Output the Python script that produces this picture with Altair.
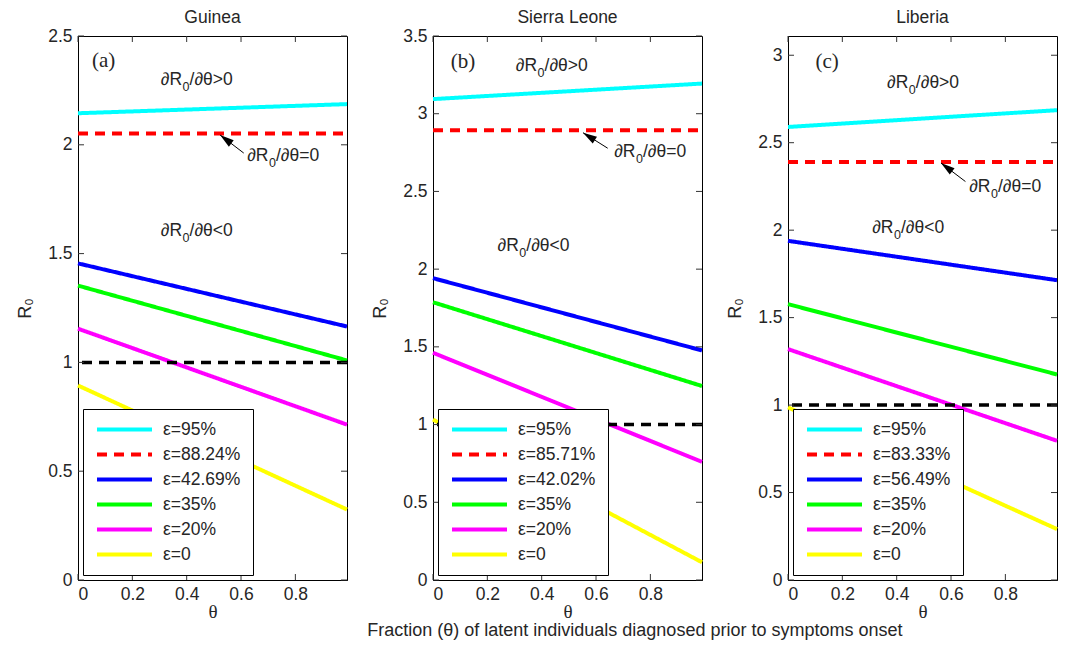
import altair as alt
import pandas as pd

# ---------------- data ----------------
countries = ["Guinea", "Sierra Leone", "Liberia"]
panel_tags = ["(a)", "(b)", "(c)"]
theta_range = [0.0, 0.99]
x_ticks = [0, 0.2, 0.4, 0.6, 0.8]
y_max = [2.5, 3.5, 3.11]
y_ticks = [
    [0, 0.5, 1, 1.5, 2, 2.5],
    [0, 0.5, 1, 1.5, 2, 2.5, 3, 3.5],
    [0, 0.5, 1, 1.5, 2, 2.5, 3],
]
labels = [
    ["ε=95%", "ε=88.24%", "ε=42.69%", "ε=35%", "ε=20%", "ε=0"],
    ["ε=95%", "ε=85.71%", "ε=42.02%", "ε=35%", "ε=20%", "ε=0"],
    ["ε=95%", "ε=83.33%", "ε=56.49%", "ε=35%", "ε=20%", "ε=0"],
]
# R0 at theta = 0 and theta = 0.99 (lines are straight)
r0_start = [
    [2.145, 2.052, 1.455, 1.353, 1.155, 0.894],
    [3.094, 2.894, 1.942, 1.787, 1.462, 1.032],
    [2.590, 2.390, 1.939, 1.577, 1.320, 0.987],
]
r0_end = [
    [2.187, 2.052, 1.165, 1.009, 0.714, 0.324],
    [3.194, 2.894, 1.477, 1.248, 0.760, 0.114],
    [2.686, 2.390, 1.714, 1.175, 0.796, 0.291],
]
threshold = 1.0
series_colors = ["#00FFFF", "#FF0000", "#0000FF", "#00FF00", "#FF00FF", "#FFFF00"]
series_dash = [[1, 0], [10, 7], [1, 0], [1, 0], [1, 0], [1, 0]]

# annotations: text pieces "∂R" + subscript "0" + rest; anchor = subscript start (theta, R0)
ann_head = "∂R"
ann_sub = "0"
ann_tails = ["/∂θ>0", "/∂θ<0", "/∂θ=0"]
ann_theta = [[0.383, 0.383, 0.701], [0.383, 0.316, 0.745], [0.443, 0.388, 0.745]]
ann_r0 = [[2.30, 1.605, 1.95], [3.31, 2.15, 2.751], [2.84, 2.01, 2.247]]
arrow_tip = [(0.523, 2.045), (0.552, 2.878), (0.563, 2.384)]
arrow_tail = [(0.61, 1.962), (0.643, 2.778), (0.653, 2.278)]
arrow_angle = [307, 302, 307]
tag_xy = [(0.094, 2.385), (0.11, 3.33), (0.144, 2.96)]

x_title = "Fraction (θ) of latent individuals diagnosed prior to symptoms onset"

SANS = "Liberation Sans"
SERIF = "Liberation Serif"
TXT = "#262626"
W, H = 269, 544
TICK = 6
FS = 17.5
title_offsets = [0.5, 0.5, 9.5]


def panel(i):
    xs = alt.Scale(domain=theta_range, nice=False, zero=False)
    ys = alt.Scale(domain=[0, y_max[i]], nice=False)
    x_axis = alt.Axis(values=x_ticks, format="~g", ticks=False, tickSize=0, labelPadding=5,
                      title="θ", titleFont=SERIF, titleFontSize=19,
                      titleFontWeight="normal", titlePadding=0, titleColor=TXT)
    y_axis = alt.Axis(values=y_ticks[i], format="~g", ticks=False, tickSize=0, labelPadding=6,
                      title="R₀", titleFont=SANS, titleFontSize=18,
                      titleFontWeight="normal", titlePadding=13, titleColor=TXT)

    def X(f="theta"):
        return alt.X(f"{f}:Q", scale=xs, axis=x_axis)

    def Y(f="r0"):
        return alt.Y(f"{f}:Q", scale=ys, axis=y_axis)

    rows = []
    for k, lab in enumerate(labels[i]):
        rows.append({"theta": theta_range[0], "r0": r0_start[i][k], "label": lab})
        rows.append({"theta": theta_range[1], "r0": r0_end[i][k], "label": lab})
    df = pd.DataFrame(rows)

    legend = alt.Legend(
        title=None, orient="bottom-left", offset=5, fillColor="white",
        strokeColor="black", padding=12, symbolType="stroke", symbolSize=3025,
        symbolStrokeWidth=4, clipHeight=17, rowPadding=7, labelFontSize=FS,
        labelFont=SANS, labelColor=TXT, labelOffset=9, symbolOpacity=1,
    )
    lines = alt.Chart(df).mark_line(strokeWidth=4).encode(
        x=X(), y=Y(),
        color=alt.Color("label:N", scale=alt.Scale(domain=labels[i], range=series_colors), legend=legend),
        strokeDash=alt.StrokeDash("label:N", scale=alt.Scale(domain=labels[i], range=series_dash), legend=legend),
    )

    thr = alt.Chart(pd.DataFrame({"r0": [threshold]})).mark_rule(
        color="black", strokeWidth=3.5, strokeDash=[10, 7]).encode(y=Y())

    ydf = pd.DataFrame({"r0": y_ticks[i]})
    xdf = pd.DataFrame({"theta": x_ticks})
    tick_style = dict(color="#333", strokeWidth=1)
    ticks_l = alt.Chart(ydf).mark_rule(**tick_style).encode(y=Y(), x=alt.value(0), x2=alt.value(TICK))
    ticks_r = alt.Chart(ydf).mark_rule(**tick_style).encode(y=Y(), x=alt.value(W - TICK), x2=alt.value(W))
    ticks_b = alt.Chart(xdf).mark_rule(**tick_style).encode(x=X(), y=alt.value(H - TICK), y2=alt.value(H))
    ticks_t = alt.Chart(xdf).mark_rule(**tick_style).encode(x=X(), y=alt.value(0), y2=alt.value(TICK))

    adf_txt = pd.DataFrame({
        "theta": ann_theta[i], "r0": ann_r0[i],
        "head": [ann_head] * 3, "sub": [ann_sub] * 3, "tail": ann_tails,
    })
    t_head = alt.Chart(adf_txt).mark_text(font=SANS, fontSize=FS, color=TXT, align="right",
                                          baseline="middle").encode(x=X(), y=Y(), text="head:N")
    t_sub = alt.Chart(adf_txt).mark_text(font=SANS, fontSize=12.5, color=TXT, align="left",
                                         baseline="middle", dx=0.5, dy=7).encode(x=X(), y=Y(), text="sub:N")
    t_tail = alt.Chart(adf_txt).mark_text(font=SANS, fontSize=FS, color=TXT, align="left",
                                          baseline="middle", dx=7.5).encode(x=X(), y=Y(), text="tail:N")

    tdf = pd.DataFrame({"theta": [tag_xy[i][0]], "r0": [tag_xy[i][1]], "text": [panel_tags[i]]})
    ttext = alt.Chart(tdf).mark_text(font=SERIF, fontSize=21, color=TXT, align="center",
                                     baseline="middle").encode(x=X(), y=Y(), text="text:N")

    adf = pd.DataFrame({"theta": [arrow_tail[i][0], arrow_tip[i][0]],
                        "r0": [arrow_tail[i][1], arrow_tip[i][1]]})
    shaft = alt.Chart(adf).mark_line(color="black", strokeWidth=1).encode(x=X(), y=Y())
    hdf = pd.DataFrame({"theta": [arrow_tip[i][0]], "r0": [arrow_tip[i][1]]})
    head = alt.Chart(hdf).mark_point(shape="M0,0L-0.8,2.8L0.8,2.8Z", filled=True, color="black",
                                     opacity=1, size=100, angle=arrow_angle[i]).encode(x=X(), y=Y())

    return alt.layer(
        lines, thr, ticks_l, ticks_r, ticks_b, ticks_t, t_head, t_sub, t_tail, ttext, shaft, head
    ).properties(
        width=W, height=H,
        title=alt.TitleParams(countries[i], font=SANS, fontSize=FS, fontWeight="normal",
                              color=TXT, offset=title_offsets[i]),
    )


chart = alt.hconcat(panel(0), panel(1), panel(2), spacing=15).resolve_scale(
    color="independent", strokeDash="independent"
).resolve_legend(
    color="independent", strokeDash="independent"
).properties(
    title=alt.TitleParams(x_title, orient="bottom", anchor="middle", font=SANS, fontSize=18,
                          fontWeight="normal", color=TXT, offset=0, dx=94),
    padding={"left": 8, "top": 0, "right": 0, "bottom": 0},
).configure_axis(
    labelFont=SANS, labelFontSize=FS, labelColor=TXT, domainColor="black", grid=False,
).configure_view(stroke="black", strokeWidth=1)

chart.save("out.html", embed_options={"renderer": "svg", "actions": False})
